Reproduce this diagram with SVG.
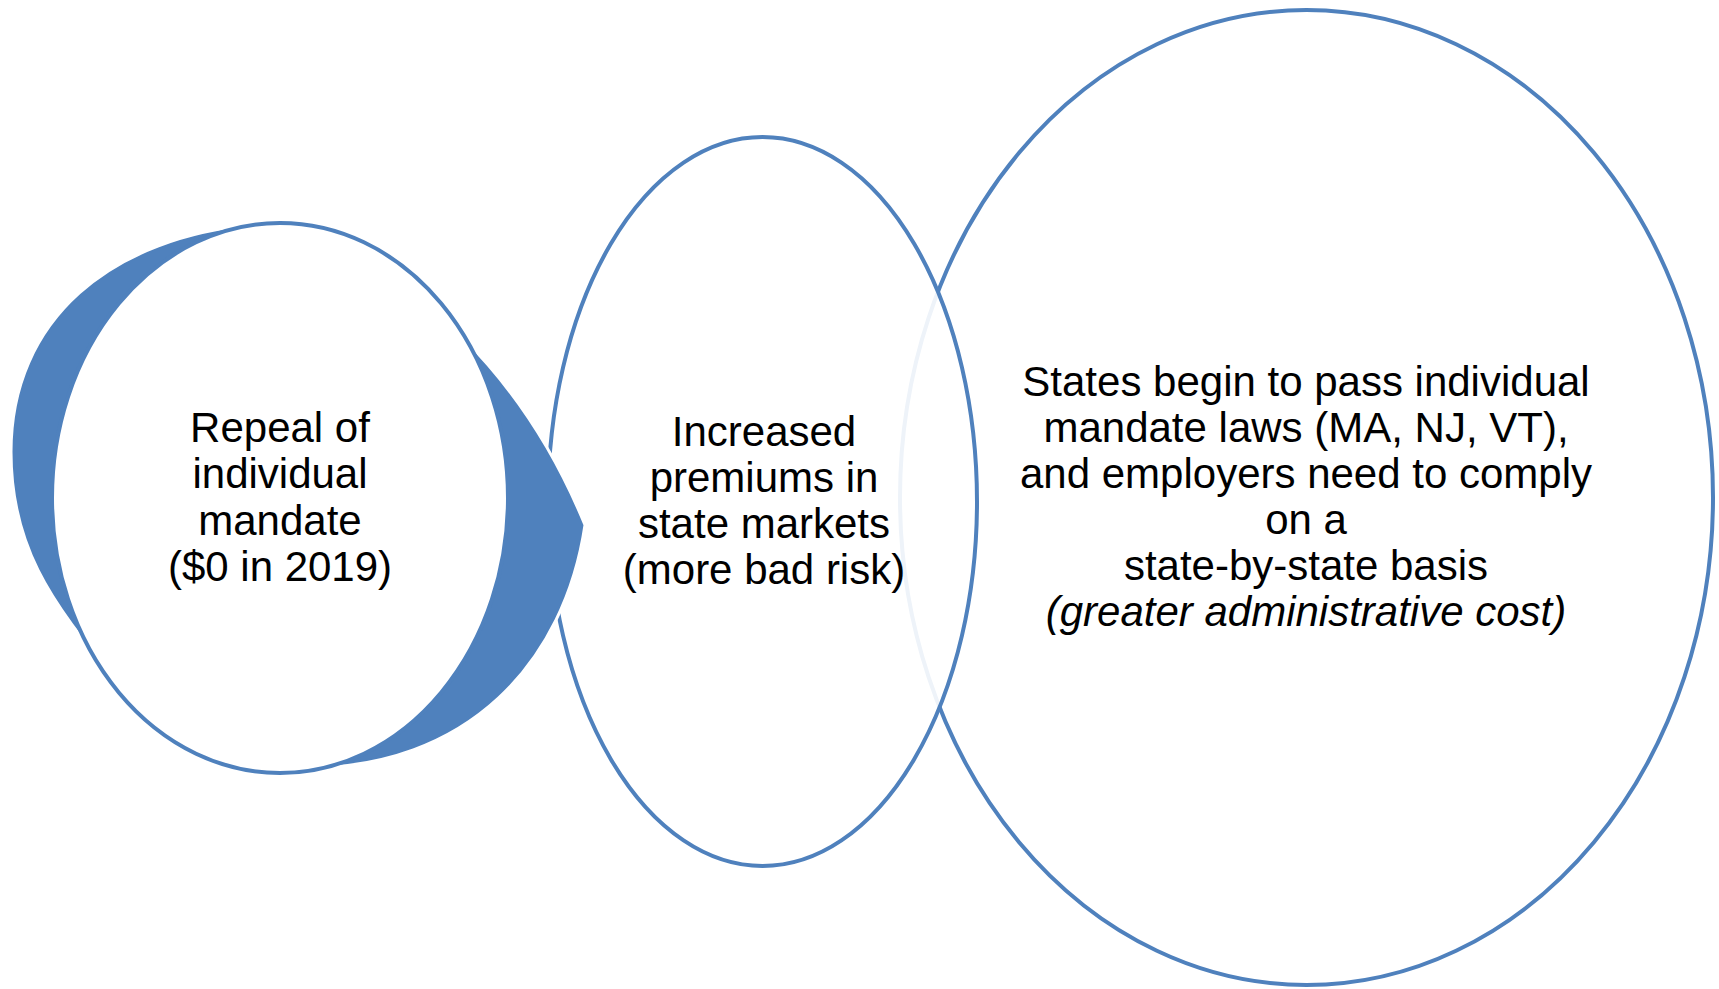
<svg xmlns="http://www.w3.org/2000/svg" width="1719" height="989" viewBox="0 0 1719 989">
  <style>
    .ring { stroke: #4F81BD; stroke-width: 4; }
    .label { font-family: "Liberation Sans", Arial, Helvetica, sans-serif; font-size: 42px; fill: #000000; text-anchor: middle; }
    .em { font-style: italic; }
  </style>
  <rect width="1719" height="989" fill="#FFFFFF"/>

  <!-- outcome: state-level mandates -->
  <g id="node-states">
    <ellipse class="ring" cx="1306.5" cy="497.5" rx="406.5" ry="487.5" fill="#FFFFFF"/>
    <text class="label" x="1306" y="396">States begin to pass individual</text>
    <text class="label" x="1306" y="442">mandate laws (MA, NJ, VT),</text>
    <text class="label" x="1306" y="488">and employers need to comply</text>
    <text class="label" x="1306" y="534">on a</text>
    <text class="label" x="1306" y="580">state-by-state basis</text>
    <text class="label em" x="1306" y="626">(greater administrative cost)</text>
  </g>

  <!-- effect: premiums (slightly translucent, so the ring behind shows faintly) -->
  <g id="node-premiums">
    <ellipse class="ring" cx="762.5" cy="501.5" rx="214.5" ry="364.5" fill="#FFFFFF" fill-opacity="0.9"/>
    <text class="label" x="764" y="446">Increased</text>
    <text class="label" x="764" y="492">premiums in</text>
    <text class="label" x="764" y="538">state markets</text>
    <text class="label" x="764" y="584">(more bad risk)</text>
  </g>

  <!-- circular arrow running behind the first circle -->
  <g id="connectors">
    <path d="M 260,224 C 110,236 11,320 11,452 C 11,540 45,600 125,690 L 300,768 C 470,770 565,660 585,525 Q 540,415 463,338 Z"
          fill="#4F81BD" stroke="#FFFFFF" stroke-width="3" stroke-linejoin="miter"/>
  </g>

  <!-- cause: repeal -->
  <g id="node-repeal">
    <ellipse class="ring" cx="280" cy="498" rx="228" ry="275" fill="#FFFFFF"/>
    <text class="label" x="280" y="442">Repeal of</text>
    <text class="label" x="280" y="488">individual</text>
    <text class="label" x="280" y="535">mandate</text>
    <text class="label" x="280" y="581">($0 in 2019)</text>
  </g>
</svg>
